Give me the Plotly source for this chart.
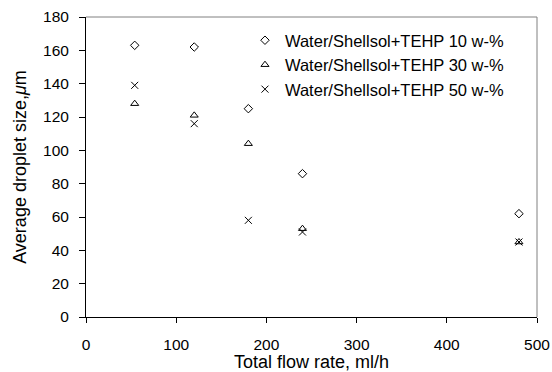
import plotly.graph_objects as go

flow_rate = [54, 120, 180, 240, 480]
tehp10 = [163, 162, 125, 86, 62]
tehp30 = [128, 121, 104, 53, 45]
tehp50 = [139, 116, 58, 51, 45]

series_names = ["Water/Shellsol+TEHP 10 w-%", "Water/Shellsol+TEHP 30 w-%", "Water/Shellsol+TEHP 50 w-%"]
x_ticks = [0, 100, 200, 300, 400, 500]
y_ticks = [0, 20, 40, 60, 80, 100, 120, 140, 160, 180]

FONT = "Liberation Sans, Arial, sans-serif"

fig = go.Figure()
symbols = ["diamond-open", "triangle-up-open", "x-thin-open"]
sizes = [6.5, 7, 7]
for i, (vals, name) in enumerate(zip([tehp10, tehp30, tehp50], series_names)):
    fig.add_trace(go.Scatter(
        x=flow_rate, y=vals, name=name, mode="markers",
        marker=dict(symbol=symbols[i], size=sizes[i], color="black",
                    line=dict(color="black", width=1)),
    ))

fig.update_layout(
    width=552, height=372,
    margin=dict(l=86, r=15, t=17, b=55, autoexpand=False),
    paper_bgcolor="white", plot_bgcolor="white",
    font=dict(family=FONT, size=15, color="black"),
    showlegend=True,
    legend=dict(x=0.3525, y=0.98, xanchor="left", yanchor="top",
                bgcolor="rgba(0,0,0,0)", borderwidth=0,
                font=dict(size=16.5), tracegroupgap=0),
    xaxis=dict(range=[0, 500], tickvals=x_ticks, showgrid=False, zeroline=False,
               showline=True, linecolor="black", linewidth=1,
               ticks="outside", ticklen=5, tickcolor="black",
               ticklabelstandoff=8, automargin=False, tickfont=dict(size=15.5),
               title=dict(text="Total flow rate, ml/h", standoff=5)),
    yaxis=dict(range=[0, 180], tickvals=y_ticks, showgrid=False, zeroline=False,
               showline=True, linecolor="black", linewidth=1,
               ticks="outside", ticklen=6, tickcolor="black",
               ticklabelstandoff=7, automargin=False, tickfont=dict(size=15.5),
               title=dict(text="Average droplet size,<i>μ</i>m", standoff=11)),
    shapes=[
        dict(type="line", xref="paper", yref="paper", x0=0, x1=1, y0=1, y1=1,
             line=dict(color="#808080", width=1)),
        dict(type="line", xref="paper", yref="paper", x0=1, x1=1, y0=0, y1=1,
             line=dict(color="#808080", width=1)),
    ],
)

fig.write_html("out.html", config={"displayModeBar": False},
               post_script="document.body.style.margin='0';")
